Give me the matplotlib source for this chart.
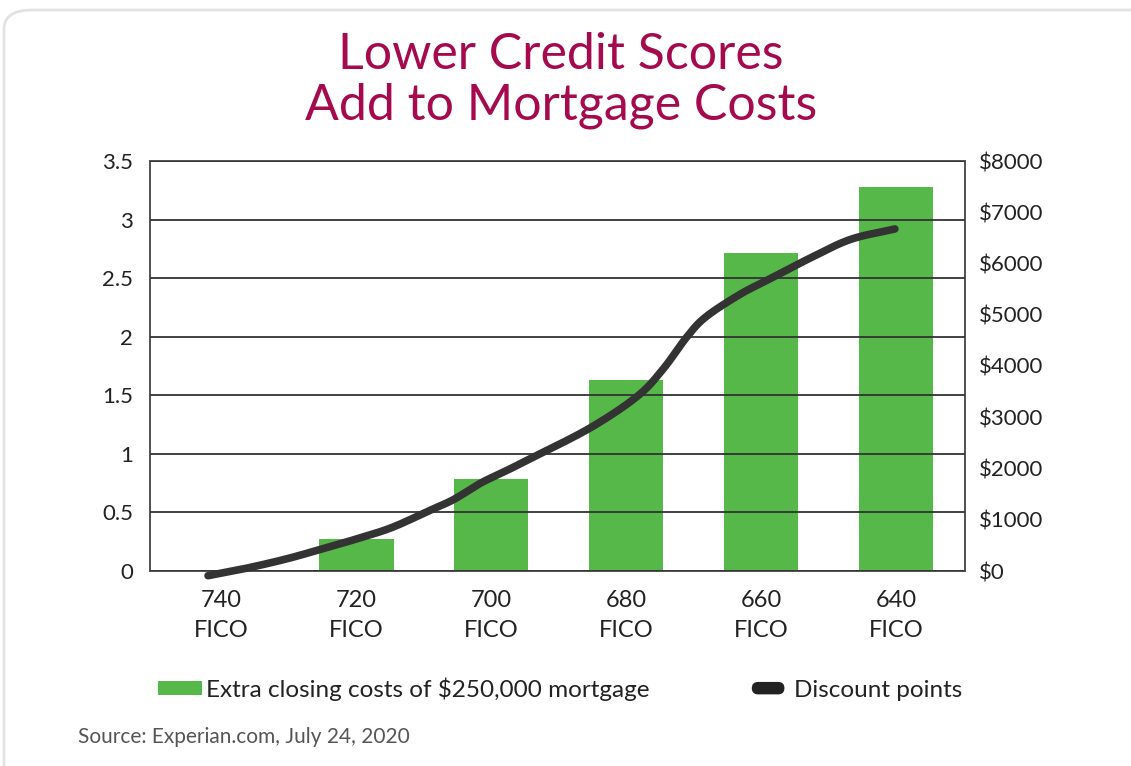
import matplotlib
matplotlib.use("Agg")
import matplotlib.pyplot as plt
import numpy as np
from matplotlib.patches import FancyBboxPatch, Patch
from matplotlib.legend_handler import HandlerBase

# ---- data ----
categories = ["740\nFICO", "720\nFICO", "700\nFICO", "680\nFICO", "660\nFICO", "640\nFICO"]
closing_costs = [0, 624, 1795, 3727, 6205, 7493]          # dollars (right axis)
# discount points curve, read along the category axis (positions in category units)
points_x = [-0.10, 0.17, 0.47, 0.72, 0.99, 1.26, 1.53, 1.72, 1.92, 2.10, 2.29, 2.73,
            3.08, 3.27, 3.45, 3.59, 3.84, 4.04, 4.36, 4.66, 4.99]
points_y = [-0.04, 0.02, 0.10, 0.18, 0.27, 0.37, 0.51, 0.61, 0.75, 0.85, 0.96, 1.22,
            1.49, 1.72, 2.00, 2.17, 2.36, 2.48, 2.67, 2.83, 2.92]
left_ticks = [0, 0.5, 1, 1.5, 2, 2.5, 3, 3.5]
left_labels = ["0", "0.5", "1", "1.5", "2", "2.5", "3", "3.5"]
right_ticks = [0, 1000, 2000, 3000, 4000, 5000, 6000, 7000, 8000]
right_labels = ["$0", "$1000", "$2000", "$3000", "$4000", "$5000", "$6000", "$7000", "$8000"]

FONT = "Lato"
plt.rcParams["font.family"] = [FONT, "DejaVu Sans"]


def catmull_rom(px, py, n=20):
    """Smooth drawing path through the read points."""
    P = np.column_stack([px, py]).astype(float)
    P = np.vstack([2 * P[0] - P[1], P, 2 * P[-1] - P[-2]])
    out = []
    t = np.linspace(0, 1, n, endpoint=False)[:, None]
    for i in range(1, len(P) - 2):
        p0, p1, p2, p3 = P[i - 1], P[i], P[i + 1], P[i + 2]
        seg = 0.5 * ((2 * p1) + (-p0 + p2) * t + (2 * p0 - 5 * p1 + 4 * p2 - p3) * t ** 2
                     + (-p0 + 3 * p1 - 3 * p2 + p3) * t ** 3)
        out.append(seg)
    out.append(P[-2][None, :])
    out = np.vstack(out)
    return out[:, 0], out[:, 1]


class RoundBarHandler(HandlerBase):
    def create_artists(self, legend, orig_handle, xdescent, ydescent, width, height,
                       fontsize, trans):
        h = height * 0.85
        y0 = -ydescent + (height - h) / 2
        p = FancyBboxPatch((-xdescent + 4, y0), width - 8, h,
                           boxstyle=f"round,pad=0,rounding_size={h / 2}",
                           facecolor="#222222", edgecolor="none", transform=trans)
        return [p]


class BarToken:
    pass


fig = plt.figure(figsize=(11.31, 7.66), dpi=100)

# card border
card = FancyBboxPatch((4 / 1131, -0.05), 1.05, 1.05 - 10 / 766,
                      boxstyle="round,pad=0,rounding_size=0.025",
                      transform=fig.transFigure, facecolor="white",
                      edgecolor="#e2e2e2", linewidth=2.0, zorder=-10)
fig.patches.append(card)

ax = fig.add_axes([150 / 1131, 1 - 571 / 766, 815 / 1131, 410 / 766])
ax2 = ax.twinx()

x = np.arange(len(categories))

# bars on right axis
ax2.bar(x, closing_costs, width=0.55, color="#56b848", zorder=2)
ax2.set_ylim(0, 8000)
ax2.set_yticks(right_ticks)
ax2.set_yticklabels(right_labels, fontsize=16, color="#222222")
ax2.tick_params(axis="y", length=0, pad=10)

# left axis above with grid and line
ax.set_zorder(ax2.get_zorder() + 1)
ax.patch.set_visible(False)
ax.set_ylim(0, 3.5)
ax.set_xlim(-0.53, 5.51)
ax.set_yticks(left_ticks)
ax.set_yticklabels(left_labels, fontsize=16, color="#222222")
ax.tick_params(axis="y", length=0, pad=12)
ax.set_xticks(x)
ax.set_xticklabels(categories, fontsize=17, color="#222222", linespacing=1.5)
ax.tick_params(axis="x", length=0, pad=14)
ax.yaxis.grid(True, color="#333333", linewidth=1.3)
ax.set_axisbelow(False)
sx, sy = catmull_rom(points_x, points_y)
ax.plot(sx, sy, color="#333333", linewidth=5.5,
        solid_capstyle="round", solid_joinstyle="round", zorder=5, clip_on=False)

for a in (ax, ax2):
    for s in a.spines.values():
        s.set_color("#555555")
        s.set_linewidth(1.4)

# title
fig.text(561 / 1131, 1 - 55 / 766, "Lower Credit Scores", ha="center", va="center",
         fontsize=36, color="#a50a4e")
fig.text(561 / 1131, 1 - 106 / 766, "Add to Mortgage Costs", ha="center", va="center",
         fontsize=36, color="#a50a4e")

# legend
handles = [Patch(facecolor="#56b848", edgecolor="none"), BarToken()]
labels = ["Extra closing costs of $250,000 mortgage", "Discount points"]
fig.legend(handles, labels, loc="center", bbox_to_anchor=(560 / 1131, 1 - 689 / 766),
           ncol=2, frameon=False, fontsize=17.5, handlelength=1.8, handleheight=0.55,
           handletextpad=0.15, columnspacing=4.0, labelcolor="#222222",
           handler_map={BarToken: RoundBarHandler()})

# source
fig.text(78 / 1131, 1 - 737 / 766, "Source: Experian.com, July 24, 2020", ha="left",
         va="center", fontsize=15, color="#555555")

fig.savefig("out.png", dpi=100)
